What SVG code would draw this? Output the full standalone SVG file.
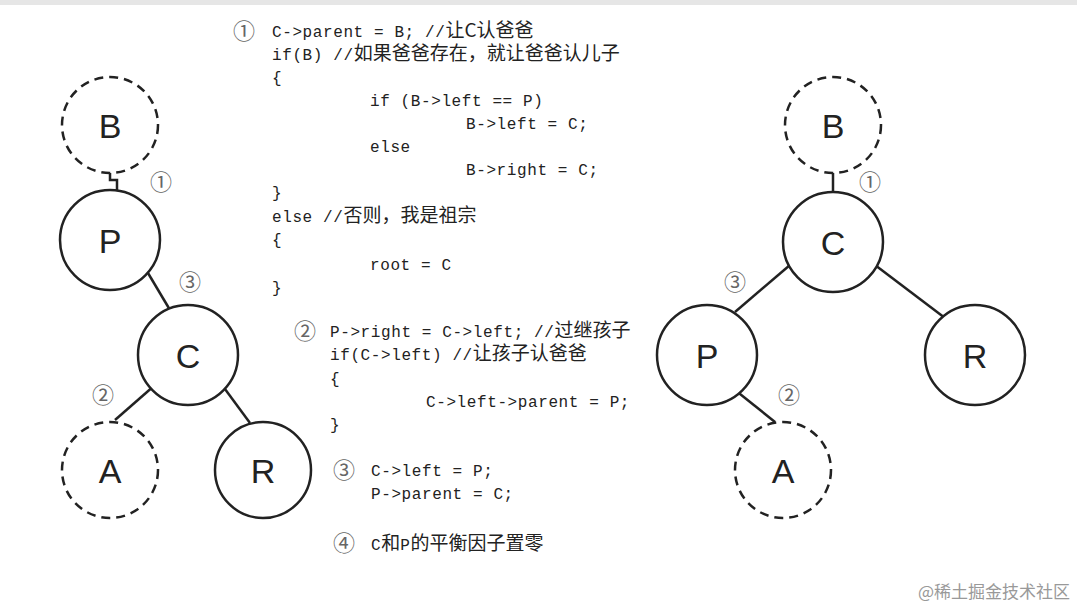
<svg xmlns="http://www.w3.org/2000/svg" width="1077" height="608" viewBox="0 0 1077 608">
<style>
.n{fill:#fff;stroke:#222;stroke-width:2.5}
.d{stroke-dasharray:9 6}
.l{font-family:"Liberation Sans","Noto Sans",sans-serif;font-size:34px;fill:#222;text-anchor:middle}
.c{font-family:"Liberation Mono","Noto Sans CJK SC",monospace;font-size:16px;fill:#222;letter-spacing:0.6px}
.z{font-family:"Noto Sans CJK SC",sans-serif;font-size:19px;letter-spacing:0}
.k{font-family:"Noto Sans CJK SC",sans-serif;font-size:22px;fill:#666}
.e{stroke:#222;stroke-width:2.5;fill:none}
</style>
<rect width="1077" height="608" fill="#fff"/>
<rect width="1077" height="5" fill="#e6e6e6"/>
<g id="connectors">
<path class="e" d="M110 172 V180 H117 V190"/>
<line class="e" x1="145" y1="268" x2="170" y2="310"/>
<line class="e" x1="155" y1="385" x2="115" y2="420"/>
<line class="e" x1="222" y1="385" x2="250" y2="423"/>
<path class="e" d="M833 172 V192"/>
<line class="e" x1="790" y1="265" x2="735" y2="312"/>
<line class="e" x1="875" y1="265" x2="945" y2="318"/>
<line class="e" x1="735" y1="390" x2="775" y2="422"/>
</g>
<g id="lB"><circle class="n d" cx="110" cy="125" r="48"/><text class="l" x="110" y="138">B</text></g>
<g id="lP"><circle class="n" cx="110" cy="240" r="50"/><text class="l" x="110" y="253">P</text></g>
<g id="lC"><circle class="n" cx="188" cy="355" r="50"/><text class="l" x="188" y="368">C</text></g>
<g id="lA"><circle class="n d" cx="110" cy="470" r="48"/><text class="l" x="110" y="483">A</text></g>
<g id="lR"><circle class="n" cx="263" cy="470" r="48"/><text class="l" x="263" y="483">R</text></g>
<g id="rB"><circle class="n d" cx="833" cy="125" r="48"/><text class="l" x="833" y="138">B</text></g>
<g id="rC"><circle class="n" cx="833" cy="242" r="50"/><text class="l" x="833" y="255">C</text></g>
<g id="rP"><circle class="n" cx="707" cy="355" r="50"/><text class="l" x="707" y="368">P</text></g>
<g id="rR"><circle class="n" cx="975" cy="355" r="50"/><text class="l" x="975" y="368">R</text></g>
<g id="rA"><circle class="n d" cx="783" cy="470" r="48"/><text class="l" x="783" y="483">A</text></g>
<g id="marks" class="k">
<text x="150" y="190">①</text><text x="179" y="290">③</text><text x="92" y="403">②</text>
<text x="859" y="190">①</text><text x="724" y="290">③</text><text x="778" y="403">②</text>
<text x="233" y="39">①</text><text x="294" y="339">②</text><text x="333" y="478">③</text><text x="333" y="551">④</text>
</g>
<g id="code" class="c">
<text x="272" y="37">C-&gt;parent = B; //<tspan class="z">让C认爸爸</tspan></text>
<text x="272" y="60">if(B) //<tspan class="z">如果爸爸存在，就让爸爸认儿子</tspan></text>
<text x="272" y="83">{</text>
<text x="370" y="106">if (B-&gt;left == P)</text>
<text x="466" y="129">B-&gt;left = C;</text>
<text x="370" y="152">else</text>
<text x="466" y="175">B-&gt;right = C;</text>
<text x="272" y="198">}</text>
<text x="272" y="222">else //<tspan class="z">否则，我是祖宗</tspan></text>
<text x="272" y="245">{</text>
<text x="370" y="270">root = C</text>
<text x="272" y="293">}</text>
<text x="330" y="337">P-&gt;right = C-&gt;left; //<tspan class="z">过继孩子</tspan></text>
<text x="330" y="360">if(C-&gt;left) //<tspan class="z">让孩子认爸爸</tspan></text>
<text x="330" y="384">{</text>
<text x="426" y="407">C-&gt;left-&gt;parent = P;</text>
<text x="330" y="430">}</text>
<text x="371" y="476">C-&gt;left = P;</text>
<text x="371" y="499">P-&gt;parent = C;</text>
<text x="371" y="550">C<tspan class="z">和</tspan>P<tspan class="z">的平衡因子置零</tspan></text>
</g>
<text x="1070" y="598" text-anchor="end" font-family="Noto Sans CJK SC,sans-serif" font-size="17" fill="#999">@稀土掘金技术社区</text>
</svg>
